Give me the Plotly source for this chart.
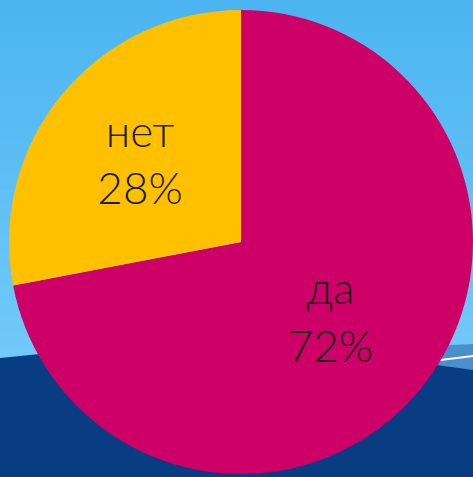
import plotly.graph_objects as go

labels = ["да", "нет"]
values = [72, 28]
colors = ["#CC0066", "#FFC000"]

W, H = 473, 477

def px(x, y):
    return x / W, 1 - y / H

shapes = []
# vertical gradient background (light blue)
top = (0x4C, 0xB5, 0xF1)
bot = (0x74, 0xCA, 0xF9)
n = 24
for i in range(n):
    t = i / (n - 1)
    c = tuple(round(top[k] + (bot[k] - top[k]) * t) for k in range(3))
    y0 = 380 * i / n
    y1 = 380 * (i + 1) / n + 1
    shapes.append(dict(type="rect", xref="paper", yref="paper", layer="below",
                       x0=0, x1=1, y0=1 - y1 / H, y1=1 - y0 / H,
                       fillcolor="rgb(%d,%d,%d)" % c, line=dict(width=0)))

def path(pts):
    s = ""
    for i, (x, y) in enumerate(pts):
        xp, yp = px(x, y)
        s += ("M" if i == 0 else "L") + "%.5f,%.5f " % (xp, yp)
    return s + "Z"

# lighter mid-blue band on the right
shapes.append(dict(type="path", xref="paper", yref="paper", layer="below",
                   path=path([(300, 352), (380, 348), (473, 344), (473, 372), (300, 372)]),
                   fillcolor="#4A8FCB", line=dict(width=0)))
# dark blue wave
shapes.append(dict(type="path", xref="paper", yref="paper", layer="below",
                   path=path([(0, 358), (60, 352), (150, 346), (240, 344), (330, 350),
                              (400, 360), (473, 370), (473, 477), (0, 477)]),
                   fillcolor="#083D84", line=dict(width=0)))
# thin white line
shapes.append(dict(type="path", xref="paper", yref="paper", layer="below",
                   path="M%.5f,%.5f L%.5f,%.5f" % (*px(400, 365), *px(473, 356)),
                   line=dict(color="white", width=2)))

fig = go.Figure(go.Pie(
    labels=labels,
    values=values,
    sort=False,
    direction="clockwise",
    rotation=0,
    marker=dict(colors=colors, line=dict(width=0)),
    texttemplate="%{label}<br>%{percent:.0%}",
    textposition="inside",
    insidetextorientation="horizontal",
    textfont=dict(family="Lato", size=44, color="#1A1A1A", weight=300),
    hoverinfo="label+percent",
    domain=dict(x=[9 / W, 473 / W], y=[(H - 242 - 232) / H, (H - 242 + 232) / H]),
    showlegend=False,
))

fig.update_layout(
    width=W, height=H,
    margin=dict(l=0, r=0, t=0, b=0),
    paper_bgcolor="#4CB5F1",
    plot_bgcolor="rgba(0,0,0,0)",
    shapes=shapes,
    showlegend=False,
)

fig.write_html("out.html", config={"displayModeBar": False},
               post_script="document.body.style.margin='0';")
